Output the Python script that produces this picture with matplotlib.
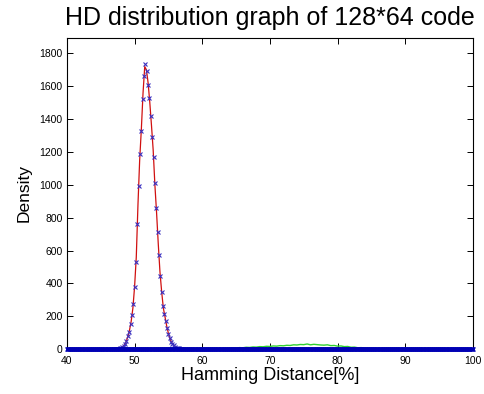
import numpy as np
import matplotlib
matplotlib.use("Agg")
import matplotlib.pyplot as plt

plt.rcParams['font.family'] = ['Liberation Sans', 'DejaVu Sans']

# Measured histogram (blue x markers)
hd_x = [47.0, 47.2, 47.4, 47.6, 47.8, 48.0, 48.2, 48.4, 48.6, 48.8,
        49.0, 49.2, 49.4, 49.6, 49.8, 50.0, 50.2, 50.4, 50.6, 50.8,
        51.0, 51.2, 51.4, 51.6, 51.8, 52.0, 52.2, 52.4, 52.6, 52.8,
        53.0, 53.2, 53.4, 53.6, 53.8, 54.0, 54.2, 54.4, 54.6, 54.8,
        55.0, 55.2, 55.4, 55.6, 55.8, 56.0, 56.2, 56.4, 56.6, 56.8, 57.0]
hd_density = [0, 1, 2, 3, 5, 8, 13, 21, 32, 52,
              78, 105, 150, 205, 272, 375, 530, 760, 990, 1190,
              1330, 1520, 1660, 1735, 1690, 1610, 1530, 1420, 1290, 1170,
              1010, 860, 715, 570, 445, 345, 265, 215, 170, 130,
              92, 66, 46, 31, 22, 14, 9, 6, 4, 2, 1]

# Fitted curve (red line)
fit_x = [40.0, 47.0, 47.5, 48.0, 48.25, 48.5, 48.75, 49.0, 49.25, 49.5, 49.75,
         50.0, 50.25, 50.5, 50.75, 51.0, 51.25, 51.5, 51.75, 52.0, 52.25,
         52.5, 52.75, 53.0, 53.25, 53.5, 53.75, 54.0, 54.25, 54.5, 54.75,
         55.0, 55.25, 55.5, 55.75, 56.0, 56.25, 56.5, 57.0, 57.5, 100.0]
fit_density = [0, 0, 2, 8, 15, 25, 45, 75, 115, 170, 250,
               380, 560, 880, 1150, 1340, 1560, 1720, 1700, 1620, 1500,
               1360, 1210, 1000, 830, 640, 470, 350, 250, 195, 140,
               95, 60, 38, 25, 14, 8, 4, 1, 0, 0]

# Second distribution (green line)
imp_x = [62, 63, 64, 64.5, 65, 65.5, 66, 66.5, 67, 67.5, 68, 68.5, 69, 69.5,
         70, 70.5, 71, 71.5, 72, 72.5, 73, 73.5, 74, 74.5, 75, 75.5, 76, 76.5,
         77, 77.5, 78, 78.5, 79, 79.5, 80, 80.5, 81, 81.5, 82, 82.5, 83, 83.5,
         84, 85, 86, 87, 88]
imp_density = [1, 2, 3, 6, 5, 9, 8, 11, 10, 13, 12, 15, 14, 17,
               16, 19, 18, 21, 20, 23, 22, 26, 25, 28, 27, 31, 26, 29,
               27, 25, 24, 26, 21, 22, 18, 19, 15, 16, 11, 12, 8, 9,
               6, 3, 2, 1, 0]

# zero-density bins across the rest of the range (blue markers on the baseline)
zero_x = np.arange(40.0, 100.01, 0.1)
zero_density = np.zeros_like(zero_x)

xticks = [40, 50, 60, 70, 80, 90, 100]
yticks = [0, 200, 400, 600, 800, 1000, 1200, 1400, 1600, 1800]

fig = plt.figure(figsize=(4.85, 3.94), dpi=100)
ax = fig.add_axes([0.138, 0.114, 0.837, 0.79])

ax.plot(imp_x, imp_density, color='#30d030', linewidth=1.0, zorder=3)
ax.plot(fit_x, fit_density, color='#d01010', linewidth=0.9, zorder=4)
ax.plot(hd_x, hd_density, linestyle='none', color='#3a30c0',
        marker='x', markersize=3.5, markeredgewidth=0.8, zorder=5)
ax.plot(zero_x, zero_density, color='#0000b4', linewidth=2.0,
        marker='x', markersize=3.0, markeredgewidth=0.9, zorder=6,
        clip_on=False)

ax.set_xlim(40, 100)
ax.set_ylim(0, 1895)
ax.set_xticks(xticks)
ax.set_yticks(yticks)
ax.tick_params(direction='in', length=4, width=0.7, top=True, right=True,
               labelsize=7.5, colors='black')
ax.tick_params(axis='x', pad=5)
ax.tick_params(axis='y', pad=3)
for s in ax.spines.values():
    s.set_linewidth(0.8)

ax.set_xlabel('Hamming Distance[%]', fontsize=13, labelpad=1)
ax.set_ylabel('Density', fontsize=12.5, labelpad=6)
ax.set_title('HD distribution graph of 128*64 code', fontsize=18, pad=9)

fig.savefig('out.png', dpi=100)
